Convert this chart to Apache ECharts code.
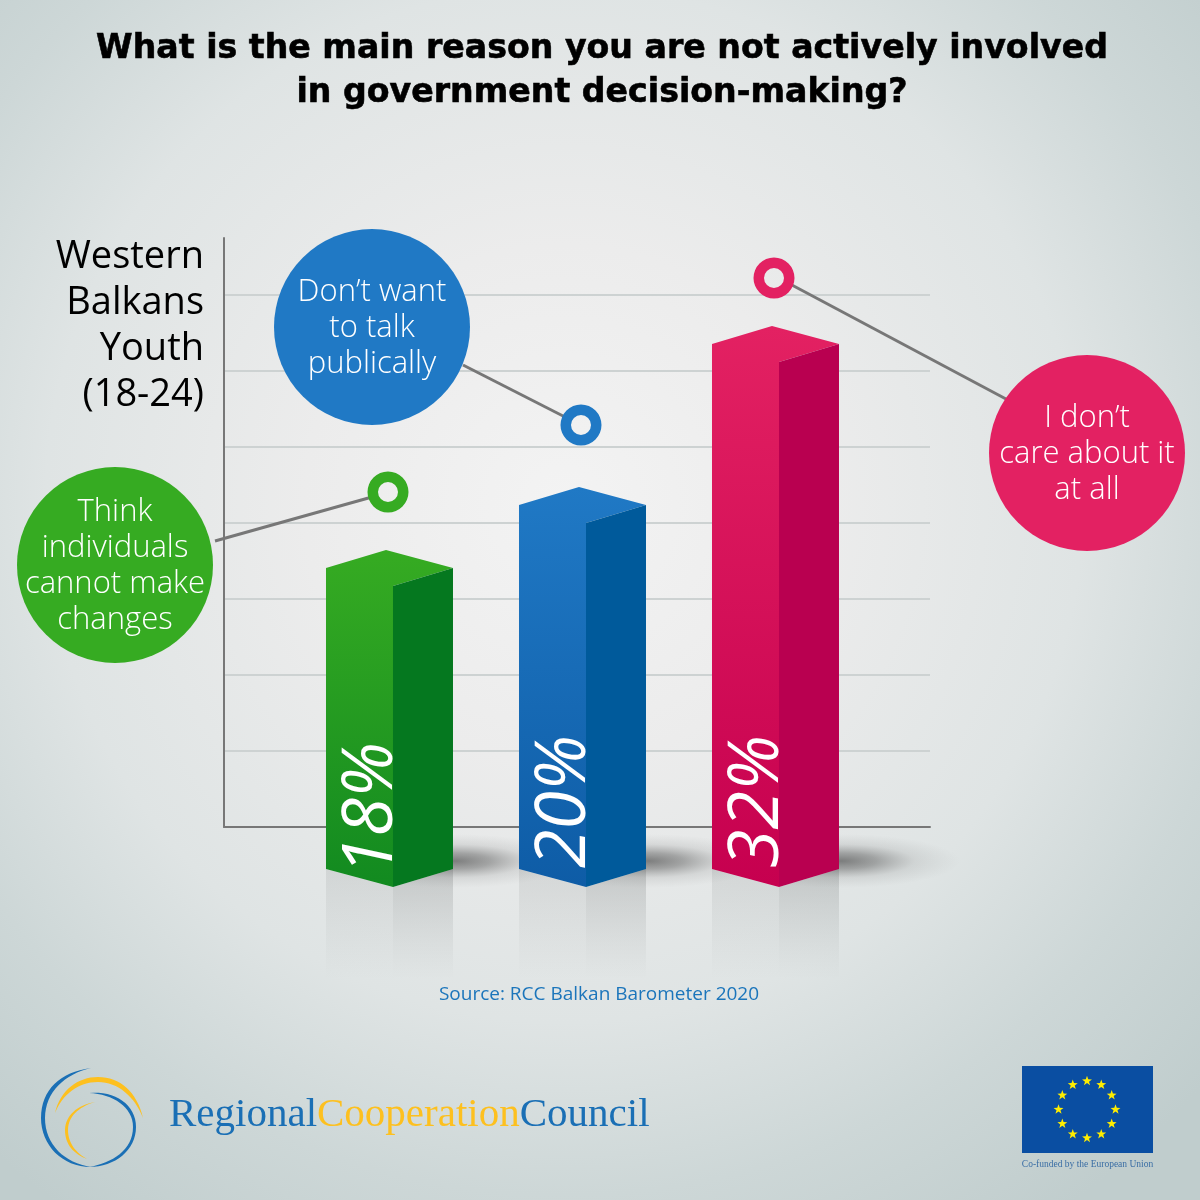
<!DOCTYPE html>
<html><head><meta charset="utf-8">
<style>html,body{margin:0;padding:0;background:#dfe4e4}#c{width:1200px;height:1200px}</style>
<script src="https://cdn.jsdelivr.net/npm/echarts@6/dist/echarts.min.js"></script>
</head><body><div id="c"></div>
<script>
// ---- data ----
const categories = ['Think individuals cannot make changes', 'Don’t want to talk publically', 'I don’t care about it at all'];
const percentages = [18, 20, 32];
// height of each bar's inner front edge, in gridline units above the axis
const barHeights = [3.171, 4.0, 6.118];
const barBase = -0.789;
const frontTop = ['#36ab22', '#2079c5', '#e32162'];
const frontBottom = ['#128a20', '#0e5ca6', '#c6004f'];
const sideColor = ['#05781f', '#005a9b', '#b90050'];
const titleLines = 'What is the main reason you are not actively involved\nin government decision-making?';
const groupLabel = 'Western\nBalkans\nYouth\n(18-24)';
const bubbleLabels = ['Think\nindividuals\ncannot make\nchanges', 'Don’t want\nto talk\npublically', 'I don’t\ncare about it\nat all'];
const sourceText = 'Source: RCC Balkan Barometer 2020';

const G = echarts.graphic;
const chart = echarts.init(document.getElementById('c'), null, {renderer: 'canvas', width: 1200, height: 1200});

function renderBar(params, api) {
  const i = params.dataIndex;
  const base = api.coord([api.value(0), barBase]);
  const top = api.coord([api.value(0), api.value(1)]);
  const x = top[0], yt = top[1], yb = base[1];
  const fw = 67, sw = 60, rise = 18;
  const refl = 92;
  const lin = (c0, c1) => new G.LinearGradient(0, 0, 0, 1, [{offset: 0, color: c0}, {offset: 1, color: c1}]);
  const poly = (points, fill) => ({type: 'polygon', shape: {points}, style: {fill, stroke: null}});
  const labelText = api.value(2) + '%';
  const bearing = labelText.charAt(0) === '1' ? 7 : 0; // the digit 1 has a wide side bearing
  return {type: 'group', children: [
    // floor shadow
    {type: 'circle', x: x + sw + 2, y: yb - 26, scaleX: 4.4, scaleY: 1, shape: {cx: 0, cy: 0, r: 27},
      style: {fill: new G.RadialGradient(0.5, 0.5, 0.5, [
        {offset: 0, color: 'rgba(60,60,60,0.62)'}, {offset: 0.3, color: 'rgba(70,70,70,0.42)'}, {offset: 0.62, color: 'rgba(100,100,100,0.13)'}, {offset: 1, color: 'rgba(120,120,120,0)'}])}},
    // reflection
    poly([[x - fw, yb - rise], [x, yb], [x, yb + refl], [x - fw, yb + refl]], lin('rgba(110,115,115,0.15)', 'rgba(130,135,135,0)')),
    poly([[x, yb], [x + sw, yb - rise], [x + sw, yb + refl], [x, yb + refl]], lin('rgba(90,95,95,0.24)', 'rgba(130,135,135,0)')),
    // front and top faces, seamless as in the reference
    poly([[x - fw, yt - rise], [x - 7, yt - 36], [x + sw, yt - rise], [x, yt], [x, yb], [x - fw, yb - rise]], lin(frontTop[i], frontBottom[i])),
    // side face
    poly([[x, yt], [x + sw, yt - rise], [x + sw, yb - rise], [x, yb]], sideColor[i]),
    // percentage
    {type: 'text', x: x - 21, y: yb - 19 + bearing, rotation: Math.PI / 2,
      style: {text: labelText, fill: '#fff', fontFamily: 'Open Sans', fontStyle: 'italic', fontWeight: 400, fontSize: 70, align: 'left', verticalAlign: 'middle'}}
  ]};
}

// ---- annotation helpers ----
function bubble(cx, cy, color, label) {
  return [
    {type: 'circle', z: 20, shape: {cx, cy, r: 98}, style: {fill: color}},
    {type: 'text', z: 21, x: cx, y: cy + 1, style: {text: label, fill: '#fff', fontFamily: 'Open Sans', fontWeight: 300, fontSize: 31, lineHeight: 36, align: 'center', verticalAlign: 'middle'}}
  ];
}
function ring(cx, cy, color) {
  return {type: 'ring', z: 20, shape: {cx, cy, r: 20.5, r0: 10}, style: {fill: color}};
}
function connector(x1, y1, x2, y2) {
  return {type: 'line', z: 19, shape: {x1, y1, x2, y2}, style: {stroke: '#777', lineWidth: 3}};
}
function stars() {
  const out = [];
  for (let k = 0; k < 12; k++) {
    const a = k * Math.PI / 6;
    const cx = 1087 + 28.5 * Math.sin(a), cy = 1109.5 - 28.5 * Math.cos(a);
    const pts = [];
    for (let j = 0; j < 10; j++) {
      const r = j % 2 ? 2.1 : 5.2, b = j * Math.PI / 5;
      pts.push([cx + r * Math.sin(b), cy - r * Math.cos(b)]);
    }
    out.push({type: 'polygon', z: 21, shape: {points: pts}, style: {fill: '#ffed00'}});
  }
  return out;
}
// crescent outline: start point then cubic segments [c1x,c1y,c2x,c2y,x,y], sampled to a polygon
function crescent(start, segs, color) {
  const pts = [start];
  let p = start;
  segs.forEach(s => {
    for (let k = 1; k <= 16; k++) {
      const t = k / 16, u = 1 - t;
      pts.push([
        u*u*u*p[0] + 3*u*u*t*s[0] + 3*u*t*t*s[2] + t*t*t*s[4],
        u*u*u*p[1] + 3*u*u*t*s[1] + 3*u*t*t*s[3] + t*t*t*s[5]
      ]);
    }
    p = [s[4], s[5]];
  });
  return {type: 'polygon', z: 20, shape: {points: pts}, style: {fill: color}};
}

const graphics = [
  {type: 'text', z: 20, x: 602, y: 71, style: {text: titleLines, fill: '#000', stroke: '#000', lineWidth: 0.6, fontFamily: 'DejaVu Sans', fontWeight: 'bold', fontSize: 33.2, lineHeight: 44, align: 'center', verticalAlign: 'middle'}},
  {type: 'text', z: 20, x: 204, y: 326, style: {text: groupLabel, fill: '#000', fontFamily: 'Open Sans', fontWeight: 400, fontSize: 38, lineHeight: 46, align: 'right', verticalAlign: 'middle'}},
  connector(215, 541, 372, 497), connector(463, 365, 565, 417), connector(790, 284, 1006, 399),
  ...bubble(115, 565, '#36ab22', bubbleLabels[0]),
  ...bubble(372, 327, '#2079c5', bubbleLabels[1]),
  ...bubble(1087, 453, '#e32162', bubbleLabels[2]),
  ring(388, 492, '#36ab22'), ring(581, 425, '#2079c5'), ring(774, 278, '#e32162'),
  {type: 'text', z: 20, x: 599, y: 995, style: {text: sourceText, fill: '#1b75bb', fontFamily: 'Open Sans', fontSize: 19, align: 'center', verticalAlign: 'middle'}},
  // RCC logo
  crescent([91,1068], [[60,1072,41,1090,41,1118],[41,1145,62,1167,91,1167],[65,1163,45,1145,45,1118],[45,1092,65,1074,91,1068]], '#1a6fb5'),
  crescent([89,1093], [[115,1090,136,1105,136,1127],[136,1150,115,1167,89,1167],[112,1163,133,1150,133,1127],[133,1107,113,1094,89,1093]], '#1a6fb5'),
  crescent([55,1113], [[60,1090,78,1077,98,1077],[120,1077,137,1092,143,1118],[135,1097,118,1082,98,1082],[78,1082,62,1095,55,1113]], '#fdc01f'),
  crescent([95,1102], [[77,1105,65,1116,65,1130],[65,1145,74,1154,87,1159],[76,1153,68,1143,68,1130],[68,1117,78,1107,95,1102]], '#fdc01f'),
  {type: 'text', z: 20, x: 169, y: 1115, style: {
    text: '{b|Regional}{y|Cooperation}{b|Council}', fontFamily: 'Liberation Serif', fontSize: 41, align: 'left', verticalAlign: 'middle',
    rich: {b: {fill: '#1a6fb5', fontFamily: 'Liberation Serif', fontSize: 41}, y: {fill: '#fdc01f', fontFamily: 'Liberation Serif', fontSize: 41}}}},
  // EU flag
  {type: 'rect', z: 20, shape: {x: 1022, y: 1066, width: 131, height: 87}, style: {fill: '#0a4ea2'}},
  ...stars(),
  {type: 'text', z: 20, x: 1087.5, y: 1164, style: {text: 'Co-funded by the European Union', fill: '#3a6ea5', fontFamily: 'Liberation Serif', fontSize: 9.5, align: 'center', verticalAlign: 'middle'}}
];

chart.setOption({
  animation: false,
  backgroundColor: new G.RadialGradient(0.47, 0.42, 0.72, [
    {offset: 0, color: '#f3f3f3'}, {offset: 0.3, color: '#ececec'}, {offset: 0.6, color: '#dfe4e4'}, {offset: 0.8, color: '#cdd7d7'}, {offset: 1, color: '#c0cdcd'}]),
  grid: [
    {left: 224, top: 295, width: 706, height: 532},
    {left: 224, top: 238, width: 706, height: 589}
  ],
  xAxis: [
    {type: 'value', gridIndex: 0, min: -0.8756, max: 2.7824, splitLine: {show: false}, axisTick: {show: false}, axisLabel: {show: false},
      axisLine: {show: true, onZero: false, lineStyle: {color: '#777', width: 2}}},
    {type: 'value', gridIndex: 1, min: 0, max: 1, show: false}
  ],
  yAxis: [
    {type: 'value', gridIndex: 0, min: 0, max: 7, interval: 1, axisLabel: {show: false}, axisTick: {show: false}, axisLine: {show: false},
      splitLine: {show: true, lineStyle: {color: '#cdd2d2', width: 2}}},
    {type: 'value', gridIndex: 1, min: 0, max: 1, splitLine: {show: false}, axisLabel: {show: false}, axisTick: {show: false},
      axisLine: {show: true, onZero: false, lineStyle: {color: '#777', width: 2}}}
  ],
  series: [{
    type: 'custom', xAxisIndex: 0, yAxisIndex: 0, clip: false, renderItem: renderBar, z: 5,
    data: categories.map((c, i) => ({name: c, value: [i, barHeights[i], percentages[i]]})),
    encode: {x: 0, y: 1}
  }],
  graphic: {elements: graphics}
});
</script></body></html>
